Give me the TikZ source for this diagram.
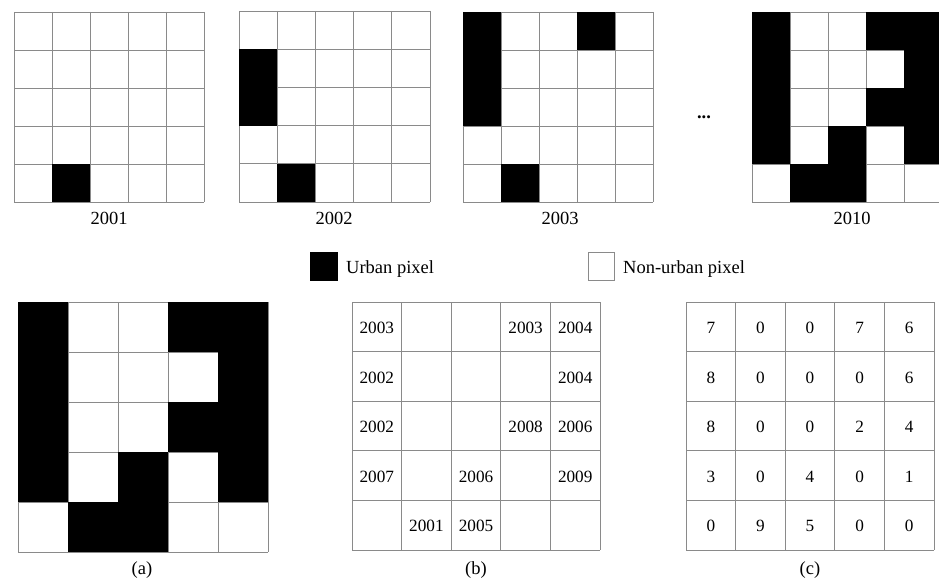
\documentclass[tikz,border=0pt]{standalone}
\usepackage{fontspec}
\setmainfont{Liberation Serif}
\definecolor{gridgray}{HTML}{8A8A8A}
\newcommand\pixgrid[4]{%
  \foreach \k in {0,...,5} {
    \draw[gridline] ({#1+\k*#3},#2) -- ({#1+\k*#3},{#2+5*#3});
    \draw[gridline] (#1,{#2+\k*#3}) -- ({#1+5*#3},{#2+\k*#3});
  }
  \foreach \c/\r in {#4} {
    \fill[black] ({#1+(\c-1)*#3},{#2+(\r-1)*#3}) rectangle ++(#3,#3);
  }
}
\newcommand\numgrid[4]{%
  \foreach \k in {0,...,5} {
    \draw[gridline] ({#1+\k*#3},#2) -- ({#1+\k*#3},{#2+5*#3});
    \draw[gridline] (#1,{#2+\k*#3}) -- ({#1+5*#3},{#2+\k*#3});
  }
  \foreach \c/\r/\t in {#4} {
    \node[celltext] at ({#1+(\c-0.5)*#3},{#2+(\r-0.5)*#3+1}) {\t};
  }
}
\begin{document}
\begin{tikzpicture}[x=1pt,y=-1pt,
  gridline/.style={draw=gridgray,line width=0.9pt},
  celltext/.style={inner sep=0pt,font=\fontsize{17.2}{20}\selectfont},
  lab/.style={inner sep=0pt,anchor=base,font=\fontsize{18.5}{22}\selectfont}]
\useasboundingbox (0,0) rectangle (939,583);
\clip (0,0) rectangle (939,583);
\fill[white] (0,0) rectangle (939,583);
% top row
\pixgrid{14}{12}{38}{2/5}
\pixgrid{239}{11}{38.2}{1/2,1/3,2/5}
\pixgrid{463}{12}{38}{1/1,1/2,1/3,4/1,2/5}
\pixgrid{752}{12}{38}{1/1,1/2,1/3,1/4,4/1,5/1,5/2,4/3,5/3,3/4,5/4,2/5,3/5}
\node[lab] (l2001) at (109,224) {2001};
\node[lab] (l2002) at (334,224) {2002};
\node[lab] (l2003) at (560,224) {2003};
\node[lab] (l2010) at (852,224) {2010};
\node[lab] (dots) at (704,118) {\textbf{...}};
% legend
\draw[black,fill=black,line width=0.9pt] (310,252) rectangle (337,280);
\node[lab,anchor=base west] (lurban) at (346,273) {Urban pixel};
\draw[gridline,fill=white] (588,252) rectangle (614,280);
\node[lab,anchor=base west] (lnon) at (623,273) {Non-urban pixel};
% bottom row
\pixgrid{18}{302}{50}{1/1,1/2,1/3,1/4,4/1,5/1,5/2,4/3,5/3,3/4,5/4,2/5,3/5}
\numgrid{352}{302}{49.6}{1/1/2003,4/1/2003,5/1/2004,1/2/2002,5/2/2004,1/3/2002,4/3/2008,5/3/2006,1/4/2007,3/4/2006,5/4/2009,2/5/2001,3/5/2005}
\numgrid{686}{302}{49.6}{1/1/7,2/1/0,3/1/0,4/1/7,5/1/6,1/2/8,2/2/0,3/2/0,4/2/0,5/2/6,1/3/8,2/3/0,3/3/0,4/3/2,5/3/4,1/4/3,2/4/0,3/4/4,4/4/0,5/4/1,1/5/0,2/5/9,3/5/5,4/5/0,5/5/0}
\node[lab] (la) at (142,574) {(a)};
\node[lab] (lb) at (476,574) {(b)};
\node[lab] (lc) at (810,574) {(c)};
\end{tikzpicture}
\end{document}
